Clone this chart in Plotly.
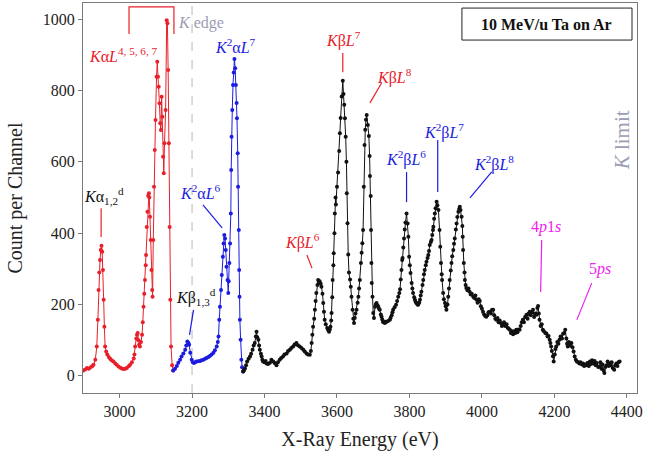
import plotly.graph_objects as go

# ---------------- data ----------------
red_energy = [2900, 2905, 2910, 2915, 2920, 2925, 2928, 2933, 2937, 2940, 2942, 2944, 2946, 2948, 2950,
              2952, 2954, 2956, 2958, 2960, 2963, 2966, 2970, 2974, 2978, 2983, 2988, 2992, 2997, 3002,
              3006, 3011, 3016, 3020, 3025, 3029, 3034, 3039, 3041, 3043, 3046, 3048, 3050, 3052, 3054,
              3056, 3059, 3062, 3064, 3066, 3068, 3070, 3072, 3073, 3075, 3077, 3079, 3081, 3082, 3084,
              3086, 3088, 3090, 3091, 3093, 3095, 3097, 3099, 3102, 3104, 3106, 3108, 3110, 3112, 3114,
              3116, 3118, 3120, 3122, 3124, 3127, 3130, 3132, 3134, 3136, 3138, 3140, 3142, 3145, 3148]
red_counts = [15, 18, 22, 20, 24, 28, 31, 45, 82, 157, 241, 290, 325, 353, 365,
              348, 297, 213, 138, 82, 68, 60, 53, 48, 44, 40, 35, 31, 26, 23,
              21, 19, 20, 22, 27, 31, 38, 49, 60, 82, 105, 115, 120, 100, 88,
              82, 95, 115, 150, 194, 230, 269, 310, 339, 417, 460, 505, 512, 500, 446,
              381, 297, 241, 222, 381, 530, 633, 717, 838, 880, 838, 810, 764, 708, 689,
              782, 726, 614, 568, 652, 745, 997, 988, 857, 652, 417, 213, 82, 30, 15]

blue_energy = [3148, 3153, 3158, 3162, 3167, 3171, 3176, 3181, 3184, 3187, 3190, 3192, 3195, 3199, 3202,
               3205, 3209, 3212, 3217, 3222, 3226, 3231, 3236, 3240, 3245, 3249, 3254, 3259, 3263, 3268,
               3271, 3273, 3275, 3277, 3280, 3282, 3285, 3287, 3289, 3291, 3293, 3295, 3298, 3300, 3301,
               3303, 3305, 3307, 3308, 3309, 3311, 3313, 3315, 3317, 3319, 3321, 3323, 3324, 3326, 3327,
               3329, 3330, 3331, 3332, 3334, 3336, 3338, 3341]
blue_counts = [15, 20, 28, 37, 45, 54, 63, 73, 85, 96, 92, 87, 65, 45, 38,
               36, 38, 40, 41, 42, 44, 45, 48, 50, 53, 56, 60, 65, 72, 82,
               95, 110, 157, 194, 241, 283, 334, 371, 395, 385, 353, 306, 269, 232, 265,
               316, 371, 455, 577, 670, 745, 815, 850, 888, 862, 815, 765, 722, 624, 530,
               409, 297, 222, 157, 101, 45, 24, 12]

black_energy = [3341, 3343, 3346, 3349, 3352, 3356, 3360, 3363, 3367, 3370, 3373, 3376, 3378, 3380, 3383,
                3385, 3387, 3390, 3392, 3394, 3396, 3400, 3403, 3406, 3410, 3415, 3419, 3424, 3428, 3433,
                3437, 3442, 3446, 3451, 3455, 3461, 3465, 3470, 3474, 3479, 3483, 3488, 3492, 3497, 3502,
                3507, 3511, 3516, 3520, 3525, 3528, 3530, 3532, 3534, 3537, 3539, 3541, 3543, 3546, 3548,
                3550, 3552, 3555, 3557, 3560, 3562, 3564, 3566, 3569, 3573, 3576, 3578, 3580, 3582, 3584,
                3585, 3587, 3588, 3590, 3591, 3593, 3594, 3596, 3597, 3600, 3603, 3606, 3608, 3610, 3613,
                3616, 3618, 3620, 3622, 3624, 3626, 3627, 3629, 3631, 3633, 3636, 3638, 3640, 3643, 3645,
                3647, 3649, 3651, 3654, 3657, 3659, 3661, 3663, 3666, 3668, 3670, 3672, 3674, 3676, 3678,
                3680, 3682, 3685, 3688, 3690, 3691, 3693, 3694, 3695, 3696, 3698, 3700, 3702, 3705, 3707,
                3709, 3712, 3714, 3716, 3718, 3721, 3723, 3725, 3727, 3730, 3732, 3734, 3736, 3741, 3746,
                3748, 3751, 3753, 3755, 3759, 3763, 3766, 3769, 3772, 3774, 3776, 3778, 3780, 3781, 3783,
                3785, 3787, 3789, 3792, 3795, 3797, 3799, 3801, 3803, 3806, 3808, 3810, 3813, 3815, 3817,
                3819, 3822, 3824, 3827, 3829, 3831, 3833, 3836, 3838, 3840, 3842, 3845, 3847, 3850, 3852,
                3854, 3856, 3859, 3861, 3863, 3865, 3866, 3868, 3870, 3872, 3875, 3877, 3880, 3883, 3885,
                3887, 3889, 3890, 3893, 3895, 3898, 3900, 3902, 3905, 3907, 3909, 3911, 3914, 3916, 3918,
                3921, 3923, 3925, 3928, 3930, 3932, 3935, 3937, 3939, 3941, 3944, 3946, 3947, 3948, 3950,
                3952, 3953, 3955, 3957, 3960, 3963, 3966, 3969, 3972, 3976, 3979, 3982, 3985, 3988, 3991,
                3994, 3997, 4000, 4003, 4006, 4009, 4012, 4015, 4018, 4022, 4025, 4028, 4031, 4034, 4037,
                4040, 4043, 4046, 4049, 4052, 4055, 4058, 4061, 4064, 4068, 4071, 4074, 4077, 4080, 4083,
                4086, 4089, 4092, 4095, 4098, 4101, 4104, 4107, 4110, 4113, 4116, 4119, 4123, 4126, 4129,
                4132, 4135, 4138, 4141, 4144, 4147, 4150, 4153, 4155, 4157, 4159, 4162, 4165, 4168, 4171,
                4175, 4178, 4181, 4184, 4187, 4189, 4191, 4193, 4196, 4198, 4201, 4203, 4205, 4208, 4211,
                4214, 4217, 4221, 4224, 4227, 4230, 4233, 4235, 4237, 4240, 4243, 4247, 4250, 4253, 4256,
                4259, 4262, 4266, 4269, 4272, 4276, 4279, 4282, 4285, 4288, 4291, 4295, 4298, 4301, 4304,
                4308, 4311, 4314, 4317, 4321, 4324, 4327, 4330, 4333, 4336, 4338, 4341, 4344, 4347, 4350,
                4352, 4355, 4358, 4361, 4365, 4368, 4371, 4374, 4377, 4380]
black_counts = [12, 15, 21, 30, 40, 48, 54, 62, 73, 85, 92, 110, 124, 108, 101,
                85, 73, 62, 54, 45, 40, 38, 42, 35, 33, 37, 45, 40, 36, 30,
                38, 45, 50, 54, 60, 63, 70, 73, 78, 82, 88, 92, 86, 82, 78,
                73, 68, 63, 60, 59, 70, 92, 115, 138, 160, 185, 210, 232, 255, 269,
                262, 265, 258, 250, 230, 204, 180, 157, 145, 134, 128, 124, 130, 138, 155,
                176, 220, 269, 310, 344, 400, 455, 500, 480, 530, 570, 630, 680, 723, 783,
                827, 790, 760, 722, 670, 600, 512, 428, 340, 290, 270, 250, 222, 185, 160,
                148, 162, 175, 185, 205, 222, 245, 269, 316, 345, 372, 409, 530, 647, 690,
                718, 731, 703, 672, 616, 560, 504, 409, 316, 260, 222, 176, 162, 194, 200,
                204, 198, 194, 188, 185, 172, 166, 158, 151, 150, 148, 152, 151, 154, 157,
                163, 170, 178, 185, 192, 199, 210, 222, 232, 243, 270, 297, 325, 330, 360,
                385, 410, 430, 455, 427, 390, 334, 310, 288, 260, 245, 232, 220, 213, 208,
                204, 200, 199, 205, 213, 225, 236, 255, 269, 285, 297, 310, 320, 330, 339,
                350, 367, 375, 381, 395, 409, 418, 440, 455, 470, 488, 478, 465, 409, 362,
                316, 285, 269, 232, 215, 204, 195, 185, 200, 222, 245, 269, 295, 316, 335,
                353, 370, 385, 410, 427, 445, 460, 468, 474, 465, 446, 420, 390, 353, 316,
                290, 269, 255, 246, 240, 245, 236, 228, 230, 222, 218, 225, 213, 205, 215,
                210, 195, 188, 180, 172, 168, 166, 170, 178, 180, 175, 185, 185, 170, 160,
                157, 162, 150, 155, 148, 140, 143, 150, 140, 145, 135, 132, 129, 120, 125,
                117, 125, 120, 129, 122, 130, 129, 140, 150, 157, 150, 165, 171, 160, 175,
                180, 170, 178, 185, 165, 175, 171, 190, 196, 175, 157, 140, 145, 129, 125,
                120, 119, 110, 112, 101, 92, 82, 70, 55, 40, 60, 75, 82, 95, 90,
                101, 110, 105, 118, 120, 129, 105, 90, 82, 95, 85, 92, 80, 68, 54,
                45, 40, 38, 35, 38, 32, 35, 28, 32, 30, 36, 28, 40, 33, 44,
                35, 42, 30, 36, 25, 26, 38, 20, 32, 15, 8, 25, 30, 40, 28,
                35, 30, 38, 22, 17, 30, 35, 28, 38, 40]

x_ticks = [3000, 3200, 3400, 3600, 3800, 4000, 4200, 4400]
y_ticks = [0, 200, 400, 600, 800, 1000]
k_edge_energy = 3200

# ---------------- styling ----------------
SERIF = "Liberation Serif"
RED = "#e8202a"
BLUE = "#1c1ce0"
BLACK = "#111111"
MAGENTA = "#ee22ee"
GRAY = "#9c9cb4"

fig = go.Figure()
for xs, ys, col in [(red_energy, red_counts, RED), (blue_energy, blue_counts, BLUE),
                    (black_energy, black_counts, BLACK)]:
    fig.add_trace(go.Scatter(x=xs, y=ys, mode="lines+markers",
                             line=dict(color=col, width=1),
                             marker=dict(color=col, size=4),
                             showlegend=False, hoverinfo="skip"))

shapes = []
shapes.append(dict(type="line", xref="x", yref="paper", x0=k_edge_energy, x1=k_edge_energy, y0=0, y1=1,
                   line=dict(color="#c4c4c4", width=1.2, dash="dash"), layer="below"))
shapes.append(dict(type="path", xref="x", yref="y",
                   path="M 3026 958 L 3026 1034 L 3150 1034 L 3150 958",
                   line=dict(color=RED, width=1.2)))

def leader(x0, y0, x1, y1, col):
    shapes.append(dict(type="line", xref="x", yref="y", x0=x0, y0=y0, x1=x1, y1=y1,
                       line=dict(color=col, width=1.2)))

leader(2949, 470, 2949, 389, RED)
leader(3230, 479, 3283, 415, BLUE)
leader(3204, 185, 3193, 115, BLUE)
leader(3517, 339, 3531, 302, RED)
leader(3616, 905, 3616, 851, RED)
leader(3723, 821, 3691, 765, RED)
leader(3792, 571, 3792, 487, BLUE)
leader(3878, 661, 3878, 515, BLUE)
leader(4027, 572, 3967, 499, BLUE)
leader(4165, 381, 4162, 235, MAGENTA)
leader(4303, 260, 4262, 157, MAGENTA)
shapes.append(dict(type="rect", xref="paper", yref="paper", x0=0.684, x1=0.991, y0=0.905, y1=0.987,
                   line=dict(color="#222222", width=1), fillcolor="white"))

ann = []
def label(x, y, text, col, size=16):
    ann.append(dict(x=x, y=y, xref="x", yref="y", text=text, showarrow=False,
                    xanchor="center", yanchor="middle",
                    font=dict(family=SERIF, size=size, color=col)))

label(2958, 505, "<i>K</i>α<sub>1,2</sub><sup>d</sup>", BLACK)
label(3012, 900, "<i>K</i>α<i>L</i><sup>4, 5, 6, 7</sup>", RED)
label(3224, 990, "<i>K</i> edge", GRAY)
label(3319, 925, "<i>K</i><sup>2</sup>α<i>L</i><sup>7</sup>", BLUE)
label(3222, 515, "<i>K</i><sup>2</sup>α<i>L</i><sup>6</sup>", BLUE)
label(3212, 222, "<i>K</i>β<sub>1,3</sub><sup>d</sup>", BLACK)
label(3506, 378, "<i>K</i>β<i>L</i><sup>6</sup>", RED)
label(3618, 944, "<i>K</i>β<i>L</i><sup>7</sup>", RED)
label(3760, 840, "<i>K</i>β<i>L</i><sup>8</sup>", RED)
label(3790, 608, "<i>K</i><sup>2</sup>β<i>L</i><sup>6</sup>", BLUE)
label(3895, 684, "<i>K</i><sup>2</sup>β<i>L</i><sup>7</sup>", BLUE)
label(4033, 594, "<i>K</i><sup>2</sup>β<i>L</i><sup>8</sup>", BLUE)
label(4176, 418, "4<i>p</i>1<i>s</i>", MAGENTA)
label(4326, 300, "5<i>ps</i>", MAGENTA)
ann.append(dict(x=0.8375, y=0.946, xref="paper", yref="paper", showarrow=False,
                xanchor="center", yanchor="middle",
                text="<b>10 MeV/u Ta on Ar</b>", font=dict(family=SERIF, size=16, color="#111111")))
ann.append(dict(x=0.973, y=0.648, xref="paper", yref="paper", showarrow=False, textangle=-90,
                xanchor="center", yanchor="middle",
                text="<i>K</i> limit", font=dict(family=SERIF, size=21, color=GRAY)))

axis_common = dict(showline=True, mirror=True, linecolor="#7a7a7a", linewidth=1,
                   ticks="outside", ticklen=4, tickcolor="#7a7a7a", showgrid=False, zeroline=False,
                   tickfont=dict(family=SERIF, size=16, color="#222222"))

fig.update_layout(
    width=645, height=461,
    font=dict(family=SERIF, color="#222222"),
    margin=dict(l=83, r=8, t=3, b=68),
    paper_bgcolor="white", plot_bgcolor="white",
    shapes=shapes, annotations=ann,
    xaxis=dict(range=[2899, 4428], tickvals=x_ticks,
               title=dict(text="X-Ray Energy (eV)", font=dict(family=SERIF, size=20, color="#222222"),
                          standoff=12),
               **axis_common),
    yaxis=dict(range=[-48, 1045], tickvals=y_ticks,
               title=dict(text="Count per Channel", font=dict(family=SERIF, size=20, color="#222222"),
                          standoff=14),
               **axis_common),
)

fig.write_html("out.html")
